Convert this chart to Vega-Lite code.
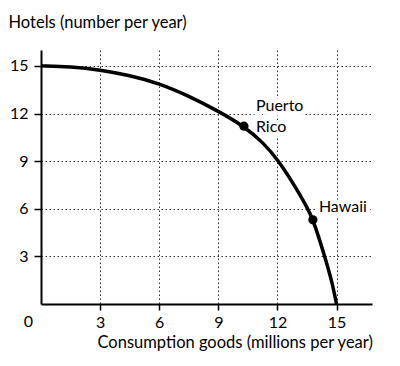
{
  "$schema": "https://vega.github.io/schema/vega-lite/v6.json",
  "width": 331,
  "height": 254,
  "autosize": "none",
  "padding": {"left": 41, "top": 50, "right": 28, "bottom": 62},
  "background": "white",
  "config": {
    "view": {"stroke": null},
    "font": "Lato",
    "axis": {
      "domainColor": "black",
      "domainWidth": 2,
      "tickColor": "black",
      "tickWidth": 1.5,
      "labelFont": "Lato",
      "labelFontSize": 16,
      "labelColor": "black",
      "titleFont": "Lato",
      "titleFontSize": 16.5,
      "titleFontWeight": "normal",
      "titleColor": "black",
      "grid": true,
      "gridDash": [1.5, 2.5],
      "gridColor": "#333",
      "gridWidth": 1
    }
  },
  "datasets": {
    "curve": [
      {"goods": 0, "hotels": 15},
      {"goods": 1.5, "hotels": 14.95},
      {"goods": 3, "hotels": 14.75},
      {"goods": 4.5, "hotels": 14.4},
      {"goods": 6, "hotels": 13.9},
      {"goods": 7.5, "hotels": 13.1},
      {"goods": 9, "hotels": 12.15},
      {"goods": 10.3, "hotels": 11.2},
      {"goods": 11.3, "hotels": 10.15},
      {"goods": 12.07, "hotels": 9},
      {"goods": 12.85, "hotels": 7.5},
      {"goods": 13.55, "hotels": 6},
      {"goods": 13.8, "hotels": 5.3},
      {"goods": 14.1, "hotels": 4.2},
      {"goods": 14.4, "hotels": 3},
      {"goods": 14.75, "hotels": 1.5},
      {"goods": 15, "hotels": 0}
    ],
    "points": [
      {"goods": 10.3, "hotels": 11.2, "label": "Puerto\nRico", "place": "pr"},
      {"goods": 13.8, "hotels": 5.3, "label": "Hawaii", "place": "hi"}
    ],
    "origin": [{"goods": 0, "hotels": 0, "label": "0"}]
  },
  "layer": [
    {
      "data": {"name": "points"},
      "transform": [{"filter": "datum.place == 'pr'"}],
      "mark": {"type": "text", "align": "left", "baseline": "middle", "dx": 12, "dy": -20, "fontSize": 16, "lineHeight": 21, "lineBreak": "\n", "fill": "white", "stroke": "white", "strokeWidth": 9, "strokeJoin": "round"},
      "encoding": {
        "x": {"field": "goods", "type": "quantitative"},
        "y": {"field": "hotels", "type": "quantitative"},
        "text": {"field": "label"}
      }
    },
    {
      "data": {"name": "points"},
      "transform": [{"filter": "datum.place == 'hi'"}],
      "mark": {"type": "text", "align": "left", "baseline": "middle", "dx": 6, "dy": -13, "fontSize": 16, "fill": "white", "stroke": "white", "strokeWidth": 9, "strokeJoin": "round"},
      "encoding": {
        "x": {"field": "goods", "type": "quantitative"},
        "y": {"field": "hotels", "type": "quantitative"},
        "text": {"field": "label"}
      }
    },
    {
      "data": {"name": "curve"},
      "mark": {"type": "line", "color": "black", "strokeWidth": 3.5, "interpolate": "basis"},
      "encoding": {
        "x": {
          "field": "goods", "type": "quantitative",
          "scale": {"domain": [0, 16.8], "nice": false},
          "axis": {
            "values": [3, 6, 9, 12, 15],
            "title": "Consumption goods (millions per year)",
            "tickSize": 6,
            "labelPadding": 4,
            "titleX": 56,
            "titleY": 43,
            "titleAlign": "left",
            "titleBaseline": "alphabetic",
            "titleAnchor": "start"
          }
        },
        "y": {
          "field": "hotels", "type": "quantitative",
          "scale": {"domain": [0, 16], "nice": false},
          "axis": {
            "values": [3, 6, 9, 12, 15],
            "title": "Hotels (number per year)",
            "tickSize": 7,
            "labelPadding": 6,
            "titleAngle": 0,
            "titleX": -33,
            "titleY": -23,
            "titleAlign": "left",
            "titleBaseline": "alphabetic",
            "titleAnchor": "start"
          }
        }
      }
    },
    {
      "data": {"name": "points"},
      "mark": {"type": "circle", "color": "black", "opacity": 1, "size": 85},
      "encoding": {
        "x": {"field": "goods", "type": "quantitative"},
        "y": {"field": "hotels", "type": "quantitative"}
      }
    },
    {
      "data": {"name": "points"},
      "transform": [{"filter": "datum.place == 'pr'"}],
      "mark": {"type": "text", "align": "left", "baseline": "middle", "dx": 12, "dy": -20, "fontSize": 16, "lineHeight": 21, "lineBreak": "\n", "color": "black"},
      "encoding": {
        "x": {"field": "goods", "type": "quantitative"},
        "y": {"field": "hotels", "type": "quantitative"},
        "text": {"field": "label"}
      }
    },
    {
      "data": {"name": "points"},
      "transform": [{"filter": "datum.place == 'hi'"}],
      "mark": {"type": "text", "align": "left", "baseline": "middle", "dx": 6, "dy": -13, "fontSize": 16, "color": "black"},
      "encoding": {
        "x": {"field": "goods", "type": "quantitative"},
        "y": {"field": "hotels", "type": "quantitative"},
        "text": {"field": "label"}
      }
    },
    {
      "data": {"name": "origin"},
      "mark": {"type": "text", "align": "right", "baseline": "top", "dx": -8, "dy": 10, "fontSize": 16, "color": "black"},
      "encoding": {
        "x": {"field": "goods", "type": "quantitative"},
        "y": {"field": "hotels", "type": "quantitative"},
        "text": {"field": "label"}
      }
    }
  ]
}
